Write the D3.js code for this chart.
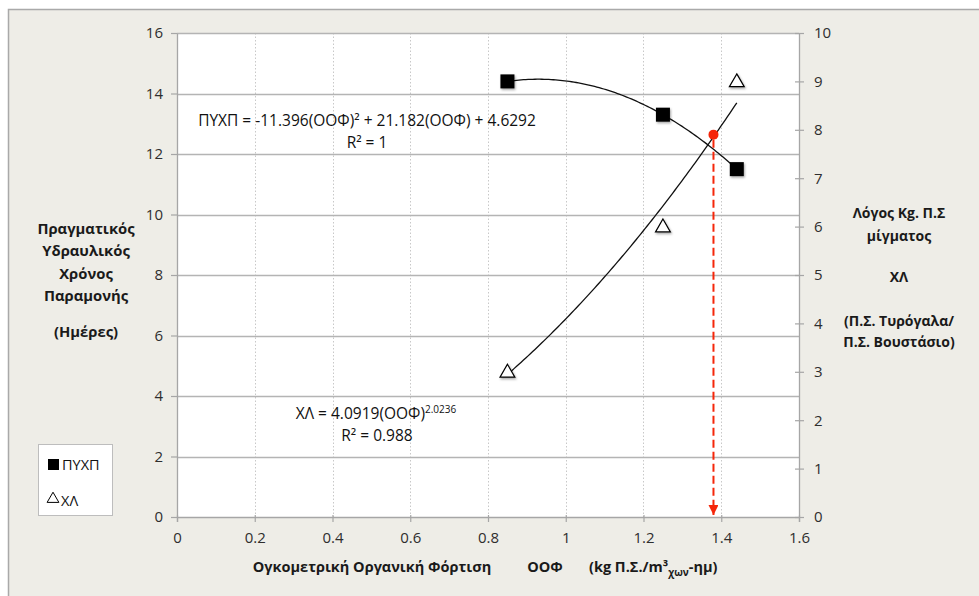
<!DOCTYPE html>
<html>
<head>
<meta charset="utf-8">
<script src="https://cdn.jsdelivr.net/npm/d3@7"></script>
<style>
  html, body { margin: 0; padding: 0; background: #ffffff; }
  svg { display: block; font-family: "Open Sans", "Noto Sans", sans-serif; }
</style>
</head>
<body>
<svg id="chart" width="979" height="596"></svg>
<script>
// Organic loading rate (ΟΟΦ) on the x axis
const oof = [0.85, 1.25, 1.44];
// Actual hydraulic retention time (days), left axis
const pyxp = [14.4, 13.3, 11.5];
// Whey / manure solids ratio, right axis
const xl = [3, 6, 9];
// Highlighted operating point (x, right-axis value)
const markX = 1.38;
const markY = 7.9;
// Trend line coefficients
const quadCoef = [-11.396, 21.182, 4.6292];
const powCoef = [4.0919, 2.0236];

const xTicks = [0, 0.2, 0.4, 0.6, 0.8, 1, 1.2, 1.4, 1.6];
const leftTicks = [0, 2, 4, 6, 8, 10, 12, 14, 16];
const rightTicks = [0, 1, 2, 3, 4, 5, 6, 7, 8, 9, 10];

const svg = d3.select("#chart");
const L = 177, R = 799, T = 33, B = 517;

const x = d3.scaleLinear().domain([0, 1.6]).range([L, R]);
const yL = d3.scaleLinear().domain([0, 16]).range([B, T]);
const yR = d3.scaleLinear().domain([0, 10]).range([B, T]);

// Chart background and frame
svg.append("rect").attr("x", 0).attr("y", 0).attr("width", 979).attr("height", 596).attr("fill", "#ffffff");
svg.append("rect").attr("x", 8.5).attr("y", 9.5).attr("width", 990).attr("height", 600)
  .attr("fill", "#eeede7").attr("stroke", "#a9a9a9").attr("stroke-width", 1.5);

// Plot area
svg.append("rect").attr("x", L).attr("y", T).attr("width", R - L).attr("height", B - T).attr("fill", "#ffffff");

// Vertical dotted grid
svg.append("g").selectAll("line").data(xTicks.filter(d => d > 0 && d < 1.6)).join("line")
  .attr("x1", d => Math.round(x(d)) + 0.5).attr("x2", d => Math.round(x(d)) + 0.5)
  .attr("y1", T).attr("y2", B)
  .attr("stroke", "#c8c8c8").attr("stroke-width", 1).attr("stroke-dasharray", "1.5,2");

// Horizontal grid
svg.append("g").selectAll("line").data(leftTicks.filter(d => d > 0)).join("line")
  .attr("x1", L).attr("x2", R)
  .attr("y1", d => Math.round(yL(d)) + 0.5).attr("y2", d => Math.round(yL(d)) + 0.5)
  .attr("stroke", "#b4b4b4").attr("stroke-width", 1.3);

// Axes
const axisColor = "#a6a6a6";
const textColor = "#2e2e2e";

function styleAxis(g) {
  g.select(".domain").attr("stroke", axisColor).attr("stroke-width", 1.3);
  g.selectAll(".tick line").attr("stroke", axisColor).attr("stroke-width", 1.2);
  g.selectAll(".tick text").attr("fill", textColor).attr("font-size", 15)
    .attr("font-family", "\"Open Sans\", sans-serif");
}

const gx = svg.append("g").attr("transform", `translate(0,${B})`)
  .call(d3.axisBottom(x).tickValues(xTicks).tickSize(5).tickPadding(10).tickFormat(d3.format("~g")));
styleAxis(gx);
gx.selectAll(".tick line").attr("y1", -2);

const gl = svg.append("g").attr("transform", `translate(${L},0)`)
  .call(d3.axisLeft(yL).tickValues(leftTicks).tickSize(6).tickPadding(8).tickSizeOuter(0));
styleAxis(gl);

const gr = svg.append("g").attr("transform", `translate(${R},0)`)
  .call(d3.axisRight(yR).tickValues(rightTicks).tickSize(5).tickPadding(10).tickSizeOuter(0));
styleAxis(gr);
gr.selectAll(".tick line").attr("x1", -4);

// Trend lines
const xs = d3.range(0, 101).map(i => oof[0] + (oof[2] - oof[0]) * i / 100);
const quad = v => quadCoef[0] * v * v + quadCoef[1] * v + quadCoef[2];
const pow = v => powCoef[0] * Math.pow(v, powCoef[1]);

svg.append("path").datum(xs)
  .attr("d", d3.line().x(d => x(d)).y(d => yL(quad(d))))
  .attr("fill", "none").attr("stroke", "#111").attr("stroke-width", 1.3);
svg.append("path").datum(xs)
  .attr("d", d3.line().x(d => x(d)).y(d => yR(pow(d))))
  .attr("fill", "none").attr("stroke", "#111").attr("stroke-width", 1.3);

// Soft shadow for markers
const defs = svg.append("defs");
const f = defs.append("filter").attr("id", "shadow").attr("x", "-50%").attr("y", "-50%").attr("width", "200%").attr("height", "200%");
f.append("feDropShadow").attr("dx", 1).attr("dy", 1.5).attr("stdDeviation", 1).attr("flood-color", "#000").attr("flood-opacity", 0.35);

// ΠΥΧΠ markers (squares)
const sq = 14;
svg.append("g").selectAll("rect").data(oof).join("rect")
  .attr("x", d => x(d) - sq / 2).attr("y", (d, i) => yL(pyxp[i]) - sq / 2)
  .attr("width", sq).attr("height", sq).attr("fill", "#000").attr("filter", "url(#shadow)");

// ΧΛ markers (triangles)
const tri = d3.symbol().type(d3.symbolTriangle).size(95);
svg.append("g").selectAll("path").data(oof).join("path")
  .attr("d", tri)
  .attr("transform", (d, i) => `translate(${x(d)},${yR(xl[i]) + 1})`)
  .attr("fill", "#fff").attr("stroke", "#000").attr("stroke-width", 1.2).attr("filter", "url(#shadow)");

// Highlighted point with dashed drop line
const red = "#f5260a";
defs.append("marker").attr("id", "arrow").attr("viewBox", "0 0 10 10")
  .attr("refX", 10).attr("refY", 5).attr("markerWidth", 5).attr("markerHeight", 5)
  .attr("orient", "auto").attr("markerUnits", "strokeWidth")
  .append("path").attr("d", "M0,0 L10,5 L0,10 Z").attr("fill", red);
svg.append("line")
  .attr("x1", x(markX)).attr("x2", x(markX))
  .attr("y1", yR(markY) + 5).attr("y2", yL(0) - 2)
  .attr("stroke", red).attr("stroke-width", 2).attr("stroke-dasharray", "8,4")
  .attr("marker-end", "url(#arrow)");
svg.append("circle").attr("cx", x(markX)).attr("cy", yR(markY)).attr("r", 5).attr("fill", red);

// Trend line equations
const fs = 15.5;
const eqStyle = t => t.attr("text-anchor", "middle").attr("font-size", fs).attr("fill", "#111");
svg.append("text").call(eqStyle).attr("x", 367).attr("y", 126)
  .text("ΠΥΧΠ = -11.396(ΟΟΦ)² + 21.182(ΟΟΦ) + 4.6292");
svg.append("text").call(eqStyle).attr("x", 367).attr("y", 148).text("R² = 1");
const eq2 = svg.append("text").call(eqStyle).attr("x", 376).attr("y", 419);
eq2.append("tspan").text("ΧΛ = 4.0919(ΟΟΦ)");
eq2.append("tspan").text("2.0236").attr("font-size", 10).attr("dy", -6);
svg.append("text").call(eqStyle).attr("x", 377).attr("y", 441).text("R² = 0.988");

// Axis titles
const bold = g => g.attr("font-weight", "bold").attr("font-size", 14.8).attr("fill", "#1a1a1a").attr("text-anchor", "middle");
const leftTitle = ["Πραγματικός", "Υδραυλικός", "Χρόνος", "Παραμονής"];
svg.append("g").call(bold).selectAll("text").data(leftTitle).join("text")
  .attr("x", 86).attr("y", (d, i) => 234 + i * 22.3).text(d => d);
svg.append("text").call(bold).attr("x", 86).attr("y", 337).text("(Ημέρες)");

const rightTitle = [["Λόγος Kg. Π.Σ", 218], ["μίγματος", 241], ["ΧΛ", 282], ["(Π.Σ. Τυρόγαλα/", 326], ["Π.Σ. Βουστάσιο)", 347]];
svg.append("g").call(bold).attr("font-size", 14).selectAll("text").data(rightTitle).join("text")
  .attr("x", 899).attr("y", d => d[1]).text(d => d[0]);

const xt = svg.append("g").call(bold).attr("font-size", 14.5);
xt.append("text").attr("x", 372).attr("y", 572).text("Ογκομετρική Οργανική Φόρτιση");
xt.append("text").attr("x", 545).attr("y", 572).text("ΟΟΦ");
const unit = xt.append("text").attr("x", 589).attr("y", 572).attr("text-anchor", "start");
unit.append("tspan").text("(kg Π.Σ./m³");
unit.append("tspan").text("χων").attr("font-size", 10).attr("dy", 4);
unit.append("tspan").text("-ημ)").attr("dy", -4);

// Legend
const lg = svg.append("g");
lg.append("rect").attr("x", 38.5).attr("y", 444.5).attr("width", 74).attr("height", 71)
  .attr("fill", "#fff").attr("stroke", "#bdbdbd").attr("stroke-width", 1);
lg.append("rect").attr("x", 48).attr("y", 459).attr("width", 11).attr("height", 11).attr("fill", "#000");
lg.append("text").attr("x", 62).attr("y", 470).attr("font-size", 14.5).attr("fill", "#111").text("ΠΥΧΠ");
lg.append("path").attr("d", d3.symbol().type(d3.symbolTriangle).size(60))
  .attr("transform", "translate(53,499)").attr("fill", "none").attr("stroke", "#000").attr("stroke-width", 1);
lg.append("text").attr("x", 61).attr("y", 506).attr("font-size", 14.5).attr("fill", "#111").text("ΧΛ");
</script>
</body>
</html>
